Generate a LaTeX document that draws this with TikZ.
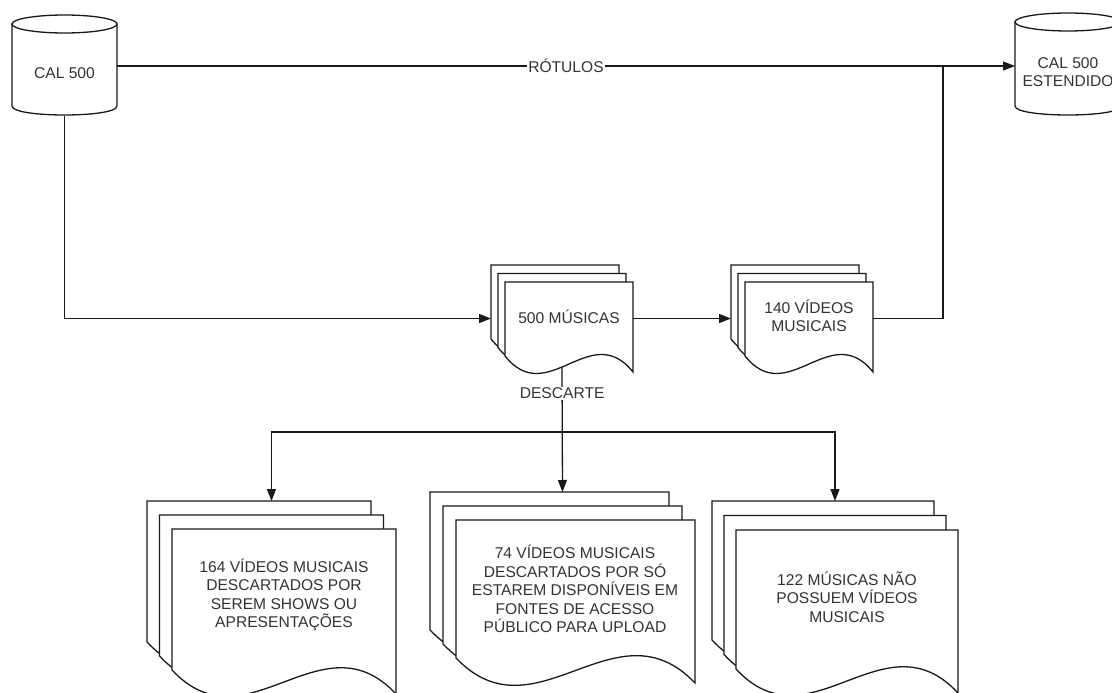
\documentclass[tikz,border=0pt]{standalone}
\usepackage{fontspec}
\setmainfont{Liberation Sans}
\usetikzlibrary{arrows.meta}
\definecolor{txt}{RGB}{51,51,51}
\definecolor{ln}{RGB}{25,25,25}
% document sheet: x y w h d  (top-left corner, width, height at right edge, wave depth)
\newcommand{\mydocsheet}[5]{%
  \filldraw[sheet] (#1,#2) -- ({#1+#3},#2) -- ({#1+#3},{#2+#4})
    .. controls ({#1+2*#3/3},{#2+#4-#5-2.333*#5}) and ({#1+#3/3},{#2+#4-#5+3.333*#5}) ..
    (#1,{#2+#4-#5}) -- cycle;}
% stack of three sheets: x y w h d dx dy (back sheet top-left)
\newcommand{\mydocstack}[7]{%
  \mydocsheet{#1}{#2}{#3}{#4}{#5}
  \mydocsheet{#1+#6}{#2+#7}{#3}{#4}{#5}
  \mydocsheet{#1+2*#6}{#2+2*#7}{#3}{#4}{#5}}
% cylinder: x1 x2 ytop ybottom ry
\newcommand{\mycyl}[5]{%
  \filldraw[sheet] (#1,{#3+#5}) -- (#1,{#4-#5})
    .. controls (#1,{#4-#5+1.333*#5}) and (#2,{#4-#5+1.333*#5}) .. (#2,{#4-#5})
    -- (#2,{#3+#5}) -- cycle;
  \filldraw[sheet] ({(#1+#2)/2},{#3+#5}) ellipse [x radius={(#2-#1)/2}, y radius=#5];}
\begin{document}
\begin{tikzpicture}[x=1pt,y=-1pt,
  sheet/.style={draw=ln,fill=white,line width=1.3pt,line join=miter},
  conn/.style={draw=ln,line width=1.3pt},
  arr/.style={conn,-{Triangle[length=12pt,width=9pt]}},
  area/.style={draw=none,inner sep=0pt,outer sep=0pt},
  txtnode/.style={text=txt,align=center,inner sep=0pt,
    font=\fontsize{15.6}{18.5}\selectfont},
  lbl/.style={txtnode,fill=white,inner sep=1pt}]
\useasboundingbox (0,0) rectangle (1112,693);
\fill[white] (0,0) rectangle (1112,693);

% cylinders
\mycyl{12}{117}{15}{115}{9}
\mycyl{1015}{1121}{13}{115}{9}
\node[area,minimum width=105pt,minimum height=100pt] (cal) at (64.5,66) {};
\node[area,minimum width=106pt,minimum height=100pt] (est) at (1068,66) {};
\node[txtnode] (calt) at (64.5,73) {CAL 500};
\node[txtnode] (estt) at (1068,72) {CAL 500\\ESTENDIDO};

% top-row document stacks
\mydocstack{491}{265}{128}{90}{16}{7}{8.5}
\mydocstack{731}{265}{128}{90}{16}{7}{8.5}
\node[area,minimum width=142pt,minimum height=107pt] (musicas) at (562,318.5) {};
\node[area,minimum width=142pt,minimum height=107pt] (v140) at (802,318.5) {};
\node[txtnode] (musicast) at (569,317) {500 MÚSICAS};
\node[txtnode] (v140t) at (809,316) {140 VÍDEOS\\MUSICAIS};

% bottom-row document stacks
\mydocstack{147}{501}{224}{165}{24}{12.5}{14}
\mydocstack{430}{492}{239}{163}{25}{13}{14}
\mydocstack{712}{501}{222}{163}{24}{12}{14.5}
\node[area,minimum width=249pt,minimum height=193pt] (s164) at (271.5,597.5) {};
\node[area,minimum width=265pt,minimum height=191pt] (s74) at (562.5,587.5) {};
\node[area,minimum width=246pt,minimum height=192pt] (s122) at (835,597) {};
\node[txtnode] (s164t) at (284,595) {164 VÍDEOS MUSICAIS\\DESCARTADOS POR\\SEREM SHOWS OU\\APRESENTAÇÕES};
\node[txtnode] (s74t) at (575,589) {74 VÍDEOS MUSICAIS\\DESCARTADOS POR SÓ\\ESTAREM DISPONÍVEIS EM\\FONTES DE ACESSO\\PÚBLICO PARA UPLOAD};
\node[txtnode] (s122t) at (847,597) {122 MÚSICAS NÃO\\POSSUEM VÍDEOS\\MUSICAIS};

% junction coordinates
\coordinate (j1) at (943,66);
\coordinate (mwave) at (562,367);
\coordinate (split) at (562,432);

% connectors
\draw[arr] (cal.east) -- node[lbl] (rot) {RÓTULOS} (est.west);
\draw[conn] (v140.east) -| (j1);
\draw[arr] (cal.south) |- (musicas.west);
\draw[arr] (musicas.east) -- (v140.west);
\draw[arr] (mwave) -- node[lbl,pos=0.21] (desc) {DESCARTE} (s74.north);
\draw[arr] (split) -| (s164.north);
\draw[arr] (split) -| (s122.north);
\end{tikzpicture}
\end{document}
